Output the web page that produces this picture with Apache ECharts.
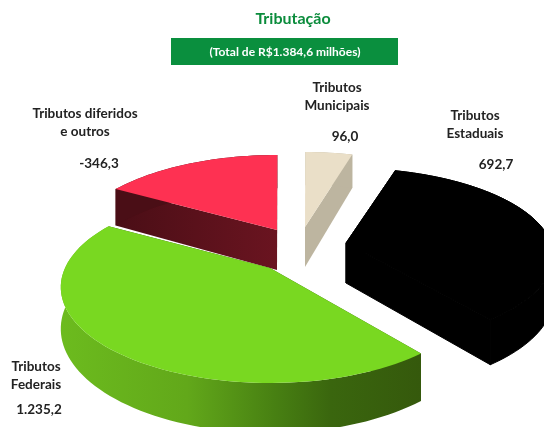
<!DOCTYPE html>
<html>
<head>
<meta charset="utf-8">
<style>
html, body { margin: 0; padding: 0; background: #fff; }
#chart { width: 544px; height: 427px; }
</style>
<script src="https://cdn.jsdelivr.net/npm/echarts@6/dist/echarts.min.js"></script>
</head>
<body>
<div id="chart"></div>
<script>
// draw order is back to front, clockwise from the red slice
const sliceNames = ["Tributos diferidos\ne outros", "Tributos\nMunicipais", "Tributos\nEstaduais", "Tributos\nFederais"];
const printedValues = ["-346,3", "96,0", "692,7", "1.235,2"];
// the drawn slices are not proportional to the printed numbers, so these
// are the shares (%)
const sliceShares = [16.7, 4.4, 34.9, 44];
const titleText = "Tributação";
const subtitleText = "(Total de R$1.384,6 milhões)";

const startAngle = -60;
const apexes = [[277, 230], [305, 227], [346, 243], [270, 268]];
const topColors = ["#fe3152", "#eadfc8", "#000000", "#79d821"];
const radiiY = [90, 90, 86, 92];
const perspectives = [0.2, 0.2, 0.15, 0.2];
const RX = 205, DEPTH = 40;

const chart = echarts.init(document.getElementById("chart"));

function project(i, deg, r, down) {
    const a = deg * Math.PI / 180;
    const u = Math.sin(a) * r, v = Math.cos(a) * r;
    const w = 1 + perspectives[i] * v;
    return [apexes[i][0] + RX * u / w, apexes[i][1] - radiiY[i] * v / w + (down ? DEPTH / w : 0)];
}

function gradient(stops) {
    return new echarts.graphic.LinearGradient(0, 0, 1, 0, stops);
}

const rimFills = [
    "#4a0e16",
    "#bdb5a0",
    "#000000",
    gradient([
        { offset: 0, color: "#6cbb1e" },
        { offset: 0.35, color: "#62a81a" },
        { offset: 0.6, color: "#477f12" },
        { offset: 0.75, color: "#3a660e" },
        { offset: 1, color: "#35590c" }
    ])
];
const wallFills = [
    gradient([{ offset: 0, color: "#4a0e16" }, { offset: 1, color: "#6a1420" }]),
    "#bdb5a0",
    "#000000",
    "#35590c"
];

function renderSlice(params, api) {
    const i = params.dataIndex;
    const total = sliceShares.reduce((s, x) => s + x, 0);
    let from = startAngle;
    for (let j = 0; j < i; j++) {
        from += sliceShares[j] / total * 360;
    }
    const to = from + api.value(0) / total * 360;
    const apex = apexes[i];

    const topArc = [], lowArc = [];
    for (let d = from; d < to; d += 2) {
        topArc.push(project(i, d, 1, false));
        lowArc.push(project(i, d, 1, true));
    }
    topArc.push(project(i, to, 1, false));
    lowArc.push(project(i, to, 1, true));

    const apexLow = project(i, 0, 0, true);
    const last = topArc.length - 1;

    const poly = (points, fill) => ({
        type: "polygon",
        shape: { points: points },
        style: {
            fill: fill,
            stroke: fill === "#000000" ? fill : null,
            lineWidth: 1
        }
    });

    return {
        type: "group",
        children: [
            poly([apex, apexLow, lowArc[0], topArc[0]], wallFills[i]),
            poly([apex, apexLow, lowArc[last], topArc[last]], wallFills[i]),
            poly(topArc.concat(lowArc.slice().reverse()), rimFills[i]),
            poly([apex].concat(topArc), topColors[i])
        ]
    };
}

function label(text, x, y) {
    return {
        type: "text",
        x: x,
        y: y,
        style: {
            text: text,
            fill: "#222222",
            font: "bold 13.5px Lato",
            lineHeight: 18,
            align: "center",
            verticalAlign: "middle"
        }
    };
}

chart.setOption({
    animation: false,
    backgroundColor: "#ffffff",
    graphic: [
        {
            type: "rect",
            shape: { x: 171, y: 38, width: 227, height: 27 },
            style: { fill: "#0a8f3e" }
        },
        {
            type: "text",
            x: 293,
            y: 19,
            style: { text: titleText, fill: "#0b8c3c", font: "bold 16px Lato", align: "center", verticalAlign: "middle" }
        },
        {
            type: "text",
            x: 285,
            y: 52,
            style: { text: subtitleText, fill: "#ffffff", font: "bold 12px Lato", align: "center", verticalAlign: "middle" }
        },
        label(sliceNames[0], 85, 123),
        label(printedValues[0], 99, 164),
        label(sliceNames[1], 337, 97),
        label(printedValues[1], 345, 137),
        label(sliceNames[2], 475, 125),
        label(printedValues[2], 496, 165),
        label(sliceNames[3], 36, 376),
        label(printedValues[3], 39, 410)
    ],
    series: [
        {
            type: "custom",
            coordinateSystem: "none",
            silent: true,
            renderItem: renderSlice,
            data: sliceShares.map(x => [x])
        }
    ]
});
</script>
</body>
</html>
